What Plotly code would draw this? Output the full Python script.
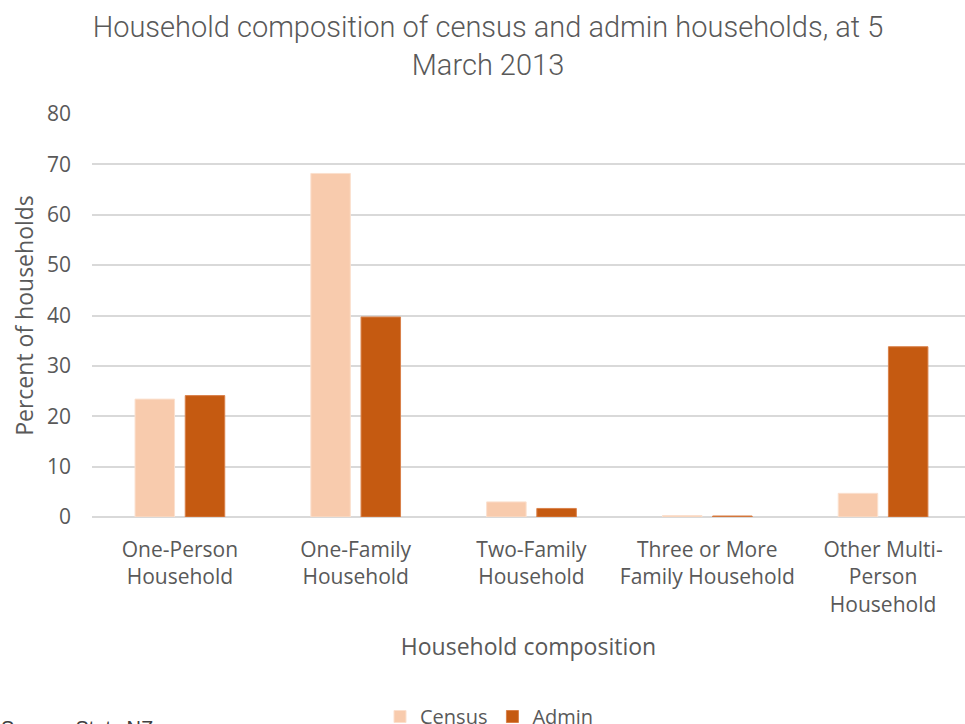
import plotly.graph_objects as go

# Household composition categories and percentages by source
categories = [
    "One-Person<br>Household",
    "One-Family<br>Household",
    "Two-Family<br>Household",
    "Three or More<br>Family Household",
    "Other Multi-<br>Person<br>Household",
]
census_pct = [23.4, 68.2, 3.0, 0.3, 4.7]
admin_pct = [24.1, 39.7, 1.7, 0.2, 33.8]
y_ticks = [0, 10, 20, 30, 40, 50, 60, 70, 80]

W, H = 965, 724
L, R, T, B = 92, 0, 114, 207
PW, PH = W - L - R, H - T - B


def px_x(p):
    return (p - L) / PW


def px_y(p):
    return (H - B - p) / PH


grey = "#595959"
tick_font = dict(family="Open Sans", size=21, color=grey)
axis_title_font = dict(family="Open Sans", size=23, color=grey)

fig = go.Figure()
fig.add_trace(go.Bar(
    name="Census", x=categories, y=census_pct,
    marker=dict(color="#F8CBAD", line=dict(color="#FBE0CE", width=1)),
))
fig.add_trace(go.Bar(
    name="Admin", x=categories, y=admin_pct,
    marker=dict(color="#C55A11", line=dict(color="#D9814A", width=1)),
))

fig.update_layout(
    width=W, height=H,
    margin=dict(l=L, r=R, t=T, b=B, autoexpand=False),
    paper_bgcolor="white", plot_bgcolor="white",
    barmode="group", bargap=0.429, bargroupgap=0.213,
    title=dict(
        text="Household composition of census and admin households, at 5<br>March 2013",
        x=488 / W, xanchor="center", xref="container",
        y=1 - 37 / H, yanchor="top", yref="container",
        font=dict(family="Roboto", size=29, color=grey, weight=300),
    ),
    showlegend=True,
    legend=dict(
        orientation="h", xanchor="left", yanchor="top",
        x=px_x(380), y=px_y(697),
        font=dict(family="Open Sans", size=20, color=grey),
        itemwidth=30, bgcolor="rgba(0,0,0,0)",
    ),
    xaxis=dict(
        range=[-0.5, 4.466], tickfont=tick_font, showgrid=False,
        showline=False, ticks="", ticklabelstandoff=18,
        title=dict(text="Household composition", standoff=22,
                   font=axis_title_font),
    ),
    yaxis=dict(
        range=[0, 80], tickvals=y_ticks, tickfont=tick_font,
        showgrid=True, gridcolor="#D9D9D9", gridwidth=1.5,
        zeroline=True, zerolinecolor="#D9D9D9", zerolinewidth=1.5,
        showline=False, ticks="", ticklabelstandoff=20,
        title=dict(text="Percent of households", standoff=6,
                   font=axis_title_font),
    ),
    annotations=[dict(
        text="Source: Stats NZ", xref="paper", yref="paper",
        x=px_x(-1), y=px_y(715), xanchor="left", yanchor="top",
        showarrow=False,
        font=dict(family="Liberation Sans", size=20, color="#404040"),
    )],
)

fig.write_html("out.html")
